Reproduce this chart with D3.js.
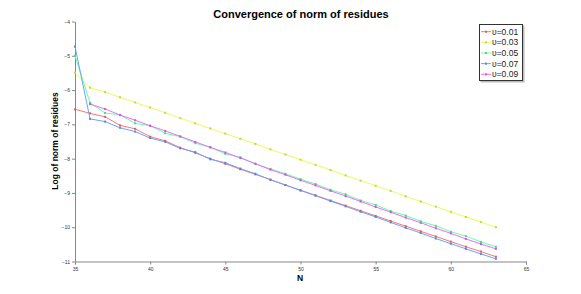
<!DOCTYPE html>
<head>
    <title>Convergence of norm of residues</title>
    <meta charset="utf-8">
    <style>
        body { margin: 0; background: #fff; }
        text { font-family: "Liberation Sans", Arial, sans-serif; }
        .title { font-size: 11px; font-weight: bold; }
        .label { font-size: 8.5px; font-weight: bold; }
        .tick text { font-size: 5px; fill: #333; }
        .axis path, .axis line { stroke: #888; }
        .series { fill: none; stroke-width: 1; }
    </style>
    <script src="https://cdn.jsdelivr.net/npm/d3@7"></script>
</head>
<body>
<svg width="581" height="294"></svg>
<script>

var N = d3.range(35, 64);

var xTicks = [35, 40, 45, 50, 55, 60, 65];
var yTicks = [-4, -5, -6, -7, -8, -9, -10, -11];

var names = ["\u03c5=0.01", "\u03c5=0.03", "\u03c5=0.05", "\u03c5=0.07", "\u03c5=0.09"];
var colors = ["#ff7474", "#ecfc58", "#66ffa0", "#68a4ff", "#ef6cff"];

var nu001 = [-6.56, -6.68, -6.78, -7.03, -7.13, -7.36, -7.48, -7.68, -7.83, -8.00,
             -8.15, -8.31, -8.46, -8.61, -8.77, -8.92, -9.07, -9.22, -9.37, -9.52,
             -9.67, -9.82, -9.97, -10.12, -10.27, -10.42, -10.57, -10.71, -10.86];
var nu003 = [-5.49, -5.93, -6.06, -6.21, -6.36, -6.51, -6.66, -6.82, -6.97, -7.12,
             -7.27, -7.42, -7.57, -7.73, -7.88, -8.03, -8.18, -8.33, -8.49, -8.64,
             -8.79, -8.94, -9.10, -9.25, -9.40, -9.55, -9.70, -9.85, -10.00];
var nu005 = [-5.00, -6.37, -6.67, -6.72, -6.97, -7.04, -7.26, -7.36, -7.55, -7.67,
             -7.86, -7.96, -8.15, -8.30, -8.44, -8.60, -8.74, -8.91, -9.04, -9.22,
             -9.35, -9.53, -9.66, -9.83, -9.96, -10.13, -10.26, -10.43, -10.57];
var nu007 = [-4.73, -6.84, -6.92, -7.10, -7.21, -7.40, -7.51, -7.70, -7.81, -8.02,
             -8.12, -8.29, -8.44, -8.62, -8.77, -8.93, -9.08, -9.24, -9.39, -9.55,
             -9.70, -9.86, -10.02, -10.17, -10.33, -10.48, -10.63, -10.78, -10.92];
var nu009 = [null, -6.41, -6.55, -6.73, -6.88, -7.04, -7.19, -7.35, -7.51, -7.67,
             -7.82, -7.98, -8.15, -8.32, -8.47, -8.63, -8.78, -8.94, -9.09, -9.25,
             -9.41, -9.56, -9.72, -9.87, -10.03, -10.18, -10.34, -10.49, -10.63];

var series = [nu001, nu003, nu005, nu007, nu009];

var svg = d3.select("svg");

var x = d3.scaleLinear().domain([35, 65]).range([75, 526]);
var y = d3.scaleLinear().domain([-11, -4]).range([261.5, 21.5]);

svg.append("g")
    .attr("class", "axis")
    .attr("transform", "translate(0,261.5)")
    .call(d3.axisBottom(x).tickValues(xTicks).tickSize(3).tickSizeOuter(3).tickPadding(3));

svg.append("g")
    .attr("class", "axis")
    .attr("transform", "translate(75,0)")
    .call(d3.axisLeft(y).tickValues(yTicks).tickSize(3).tickSizeOuter(0).tickPadding(2)
        .tickFormat(function(d) { return "\u2212" + Math.abs(d); }));

var line = d3.line()
    .defined(function(d) { return d[1] !== null; })
    .x(function(d) { return x(d[0]); })
    .y(function(d) { return y(d[1]); });

series.forEach(function(s, i) {
  var pts = N.map(function(n, j) { return [n, s[j]]; });

  svg.append("path")
      .datum(pts)
      .attr("class", "series")
      .attr("stroke", colors[i])
      .attr("d", line);

  svg.append("g")
    .selectAll("rect")
      .data(pts.filter(function(d) { return d[1] !== null; }))
    .enter().append("rect")
      .attr("x", function(d) { return x(d[0]) - 1; })
      .attr("y", function(d) { return y(d[1]) - 1; })
      .attr("width", 2)
      .attr("height", 2)
      .attr("fill", d3.color(colors[i]).darker(0.5));
});

// title and labels
svg.append("text")
    .attr("class", "title")
    .attr("x", 301)
    .attr("y", 18)
    .attr("text-anchor", "middle")
    .text("Convergence of norm of residues");

svg.append("text")
    .attr("class", "label")
    .attr("x", 300)
    .attr("y", 280.5)
    .attr("text-anchor", "middle")
    .text("N");

svg.append("text")
    .attr("class", "label")
    .attr("transform", "translate(58,141) rotate(-90)")
    .attr("text-anchor", "middle")
    .text("Log of norm of residues");

// legend
var lg = svg.append("g");

lg.append("rect")
    .attr("x", 480.5).attr("y", 25.5)
    .attr("width", 44).attr("height", 57)
    .attr("fill", "#bbb");

lg.append("rect")
    .attr("x", 479.5).attr("y", 24.5)
    .attr("width", 43).attr("height", 56)
    .attr("fill", "#fff")
    .attr("stroke", "#333");

names.forEach(function(name, i) {
  var ly = 31.7 + i * 10.65;
  lg.append("line")
      .attr("x1", 481).attr("x2", 491)
      .attr("y1", ly).attr("y2", ly)
      .attr("stroke", colors[i]);
  lg.append("rect")
      .attr("x", 485).attr("y", ly - 1)
      .attr("width", 2).attr("height", 2)
      .attr("fill", d3.color(colors[i]).darker(0.5));
  lg.append("text")
      .attr("x", 492)
      .attr("y", ly + 3)
      .style("font-size", "8.5px")
      .attr("fill", "#222")
      .text(name);
});

</script>
</body>
